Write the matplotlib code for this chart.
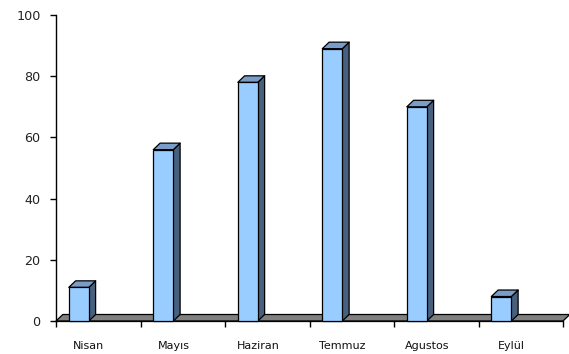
import matplotlib
matplotlib.use("Agg")
import matplotlib.pyplot as plt
from matplotlib.patches import Polygon, Rectangle
import matplotlib.transforms as mtransforms

months = ["Nisan", "Mayıs", "Haziran", "Temmuz", "Agustos", "Eylül"]
values = [11, 56, 78, 89, 70, 8]
yticks = [0, 20, 40, 60, 80, 100]

plt.rcParams['font.family'] = ['DejaVu Sans']

W, H = 569, 354
fig = plt.figure(figsize=(W / 100, H / 100), dpi=100)
left_px, right_px, bottom_px, top_px = 56, 563, 321, 15
ax = fig.add_axes([left_px / W, 1 - bottom_px / H,
                   (right_px - left_px) / W, (bottom_px - top_px) / H])
ax.set_xlim(0, len(months))
ax.set_ylim(0, 100)

# pixel -> data conversion for the 3D depth offset
px_x = len(months) / (right_px - left_px)
px_y = 100 / (bottom_px - top_px)
ddx, ddy = 6.8 * px_x, 6.5 * px_y

front = "#99CCFF"
side = "#46607E"
topc = "#7A9CC8"
edge = "black"
lw = 0.9

# floor plane
n = len(months)
floor = Polygon([(0, 0), (n, 0), (n + ddx, ddy), (ddx, ddy)], closed=True,
                facecolor="#808080", edgecolor=edge, linewidth=lw,
                clip_on=False, zorder=1)
ax.add_patch(floor)

bar_w = 20 * px_x
bar_off = 0.27
for i, v in enumerate(values):
    x0 = i + bar_off - bar_w / 2
    x1 = x0 + bar_w
    # right side
    ax.add_patch(Polygon([(x1, 0), (x1 + ddx, ddy), (x1 + ddx, v + ddy), (x1, v)],
                         closed=True, facecolor=side, edgecolor=edge,
                         linewidth=lw, joinstyle="round", zorder=2, clip_on=False))
    # top
    ax.add_patch(Polygon([(x0, v), (x1, v), (x1 + ddx, v + ddy), (x0 + ddx, v + ddy)],
                         closed=True, facecolor=topc, edgecolor=edge,
                         linewidth=lw, joinstyle="round", zorder=2, clip_on=False))
    # front
    ax.add_patch(Rectangle((x0, 0), bar_w, v, facecolor=front, edgecolor=edge,
                           linewidth=lw, zorder=3, clip_on=False))

for s in ["top", "right"]:
    ax.spines[s].set_visible(False)
ax.spines["bottom"].set_visible(False)
ax.spines["left"].set_linewidth(1.0)
ax.spines["left"].set_zorder(4)

ax.set_yticks(yticks)
ax.set_yticklabels([str(t) for t in yticks], fontsize=9.2, color="#222222")
ax.tick_params(axis="y", direction="out", length=4.5, width=1.0, pad=6.5)

# category boundary ticks along the bottom
ax.set_xticks(range(n + 1))
ax.set_xticklabels([])
ax.tick_params(axis="x", direction="out", length=4.5, width=1.0, pad=2)
ax.plot([0, n], [0, 0], color=edge, linewidth=lw, zorder=1.5, clip_on=False)

trans = mtransforms.blended_transform_factory(ax.transData, fig.transFigure)
for i, m in enumerate(months):
    ax.text(i + 0.39, 1 - 346 / H, m, transform=trans, ha="center", va="center",
            fontsize=8.0, color="#111111")

fig.savefig("out.png", dpi=100)
